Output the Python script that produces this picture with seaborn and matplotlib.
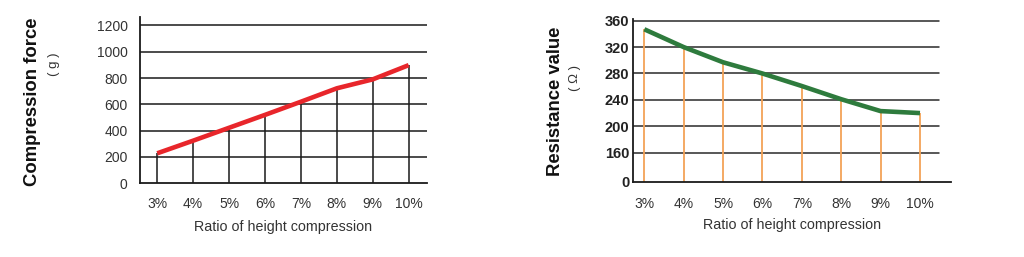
import numpy as np
import pandas as pd
import matplotlib
matplotlib.use("Agg")
import matplotlib.pyplot as plt
import seaborn as sns

# ---- data ----
ratios = ["3%", "4%", "5%", "6%", "7%", "8%", "9%", "10%"]
force_g = [228, 324, 422, 520, 620, 722, 790, 898]
resistance_ohm = [347, 320, 297, 280, 261, 241, 223, 220]
force_ticks = [0, 200, 400, 600, 800, 1000, 1200]
res_ticks = [0, 160, 200, 240, 280, 320, 360]

sns.set_theme(style="white")
plt.rcParams["font.family"] = ["Liberation Sans", "DejaVu Sans"]

df = pd.DataFrame({"ratio": ratios, "pos": np.arange(len(ratios)),
                   "force": force_g, "res": resistance_ohm})

fig = plt.figure(figsize=(10.24, 2.57), dpi=100)
ax1 = fig.add_axes([140/1024, 1-183.3/257, 287/1024, 166.3/257])
ax2 = fig.add_axes([633.3/1024, 1-181.7/257, 317.4/1024, 162.7/257])

axis_col = "#1a1a1a"
txt_col = "#333333"
tick_fs = 10
xl_fs = 10.3

# ---- left chart ----
ax1.set_xlim(-0.48, 7.51)
ax1.set_ylim(0, 1264)
for t in force_ticks[1:]:
    ax1.axhline(t, color=axis_col, lw=1.1, zorder=1)
ax1.vlines(df["pos"], 0, df["force"], color=axis_col, lw=1.1, zorder=2)
sns.lineplot(data=df, x="pos", y="force", ax=ax1, color="#e8262b", lw=3.3,
             zorder=3, solid_capstyle="butt")
ax1.set_yticks(force_ticks)
ax1.set_yticklabels([str(t) for t in force_ticks], fontsize=tick_fs, color=txt_col)
ax1.set_xticks(df["pos"])
ax1.set_xticklabels(ratios, fontsize=tick_fs, color=txt_col)
ax1.tick_params(axis="both", length=0)
ax1.tick_params(axis="x", pad=10)
ax1.tick_params(axis="y", pad=9)
ax1.set_xlabel("Ratio of height compression", fontsize=xl_fs, color=txt_col, labelpad=6)
ax1.set_ylabel("")
for s in ["top", "right"]:
    ax1.spines[s].set_visible(False)
for s in ["left", "bottom"]:
    ax1.spines[s].set_color(axis_col)
    ax1.spines[s].set_linewidth(1.3)
fig.text(33/1024, 1-102/257, "Compression force", rotation=90, ha="center",
         va="center", fontsize=13.3, fontweight="bold", color="#111111")
fig.text(54/1024, 1-64/257, "( g )", rotation=90, ha="center", va="center",
         fontsize=9.5, color=txt_col)

# ---- right chart (broken axis: 0-160 compressed) ----
k = 44.0 / 160.0
def fwd(y):
    y = np.asarray(y, dtype=float)
    return np.where(y >= 160, y, 160 - (160 - y) * k)
def inv(y):
    y = np.asarray(y, dtype=float)
    return np.where(y >= 160, y, 160 - (160 - y) / k)
ax2.set_yscale("function", functions=(fwd, inv))
ax2.set_xlim(-0.28, 7.78)
ax2.set_ylim(0, 362.6)
grid_frac = (7.49 + 0.28) / (7.78 + 0.28)
for t in res_ticks[1:]:
    ax2.axhline(t, xmin=0, xmax=grid_frac, color="#2a2a2a", lw=1.1, zorder=1)
ax2.vlines(df["pos"], 0, df["res"], color="#f3a257", lw=1.3, zorder=2)
sns.lineplot(data=df, x="pos", y="res", ax=ax2, color="#2e7b3d", lw=3.3,
             zorder=3, solid_capstyle="butt")
ax2.set_yticks(res_ticks)
ax2.set_yticklabels([str(t) for t in res_ticks], fontsize=10.5,
                    fontweight="bold", color="#222222")
ax2.yaxis.set_minor_locator(matplotlib.ticker.NullLocator())
ax2.set_xticks(df["pos"])
ax2.set_xticklabels(ratios, fontsize=tick_fs, color=txt_col)
ax2.tick_params(axis="both", length=0)
ax2.tick_params(axis="x", pad=11)
ax2.tick_params(axis="y", pad=3)
ax2.set_xlabel("Ratio of height compression", fontsize=xl_fs, color=txt_col, labelpad=5)
ax2.set_ylabel("")
for s in ["top", "right"]:
    ax2.spines[s].set_visible(False)
for s in ["left", "bottom"]:
    ax2.spines[s].set_color(axis_col)
    ax2.spines[s].set_linewidth(1.3)
fig.text(555/1024, 1-101/257, "Resistance value", rotation=90, ha="center",
         va="center", fontsize=13.3, fontweight="bold", color="#111111")
fig.text(575/1024, 1-78/257, "( Ω )", rotation=90, ha="center", va="center",
         fontsize=9.5, color=txt_col)

fig.savefig("out.png", dpi=100, facecolor="white")
